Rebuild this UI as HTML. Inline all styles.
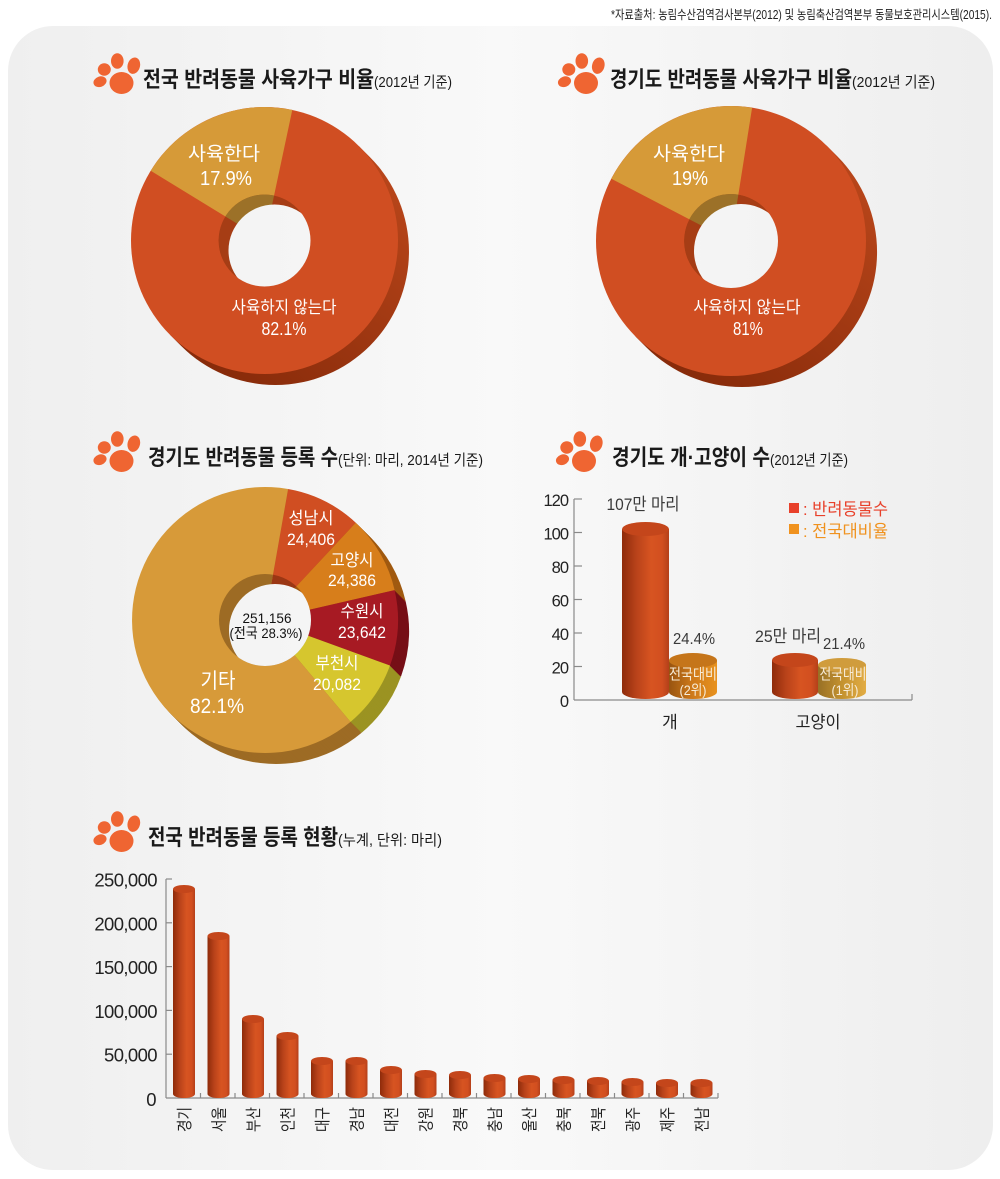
<!DOCTYPE html>
<html><head><meta charset="utf-8"><style>
html,body{margin:0;padding:0;background:#fff;}
svg{display:block;}
text{font-family:"Liberation Sans","Noto Sans CJK KR",sans-serif;}
.t{font-weight:bold;fill:#1a1a1a;font-size:22px;}
.p{fill:#1a1a1a;font-size:15px;}
.w{fill:#fff;}
</style></head><body>
<svg width="1000" height="1179" viewBox="0 0 1000 1179" xmlns="http://www.w3.org/2000/svg">
<defs>
 <linearGradient id="bg" gradientUnits="userSpaceOnUse" x1="8" y1="0" x2="993" y2="0">
  <stop offset="0" stop-color="#efefef"/><stop offset="0.5" stop-color="#f9f9f9"/><stop offset="1" stop-color="#eeeeee"/>
 </linearGradient>
 <linearGradient id="sideR" x1="1" y1="0.1" x2="0.3" y2="1">
  <stop offset="0" stop-color="#bb471b"/><stop offset="1" stop-color="#882b0a"/>
 </linearGradient>
 <linearGradient id="cylR" x1="0" y1="0" x2="1" y2="0">
  <stop offset="0" stop-color="#8e2b0a"/><stop offset="0.3" stop-color="#b8421a"/><stop offset="0.62" stop-color="#d75421"/><stop offset="0.85" stop-color="#d24f20"/><stop offset="1" stop-color="#b4401a"/>
 </linearGradient>
 <linearGradient id="cylO" x1="0" y1="0" x2="1" y2="0">
  <stop offset="0" stop-color="#985410"/><stop offset="0.5" stop-color="#cf7a1a"/><stop offset="1" stop-color="#e8921f"/>
 </linearGradient>
 <linearGradient id="cylG" x1="0" y1="0" x2="1" y2="0">
  <stop offset="0" stop-color="#987026"/><stop offset="0.5" stop-color="#c4922f"/><stop offset="1" stop-color="#e2ac44"/>
 </linearGradient>
 <clipPath id="hc1"><circle cx="264.5" cy="240.5" r="46"/></clipPath>
 <clipPath id="hc2"><circle cx="731" cy="241" r="47"/></clipPath>
 <clipPath id="hc3"><circle cx="265" cy="620" r="46"/></clipPath>
 <g id="paw" fill="#ef6532">
  <ellipse cx="0" cy="0" rx="12" ry="11"/>
  <ellipse cx="-21.5" cy="-1.3" rx="6.7" ry="5.2" transform="rotate(-20 -21.5 -1.3)"/>
  <ellipse cx="-17.2" cy="-13.5" rx="6.5" ry="6.2"/>
  <ellipse cx="-4.2" cy="-22" rx="6.3" ry="7.8"/>
  <ellipse cx="12.3" cy="-17.3" rx="6.2" ry="8.3" transform="rotate(15 12.3 -17.3)"/>
 </g>
 <g id="mside">
  <path d="M265,620 L288.1,489 A133,133 0 0,1 355.7,522.7 Z" fill="#9b3714"/>
  <path d="M265,620 L355.7,522.7 A133,133 0 0,1 394.6,590.1 Z" fill="#a05a10"/>
  <path d="M265,620 L394.6,590.1 A133,133 0 0,1 390,665.5 Z" fill="#760e16"/>
  <path d="M265,620 L390,665.5 A133,133 0 0,1 350.5,721.9 Z" fill="#9b9322"/>
  <path d="M265,620 L350.5,721.9 A133,133 0 1,1 288.1,489 Z" fill="#9d6b24"/>
 </g>
</defs>

<rect x="8" y="26" width="985" height="1144" rx="45" fill="url(#bg)"/>

<text x="611" y="19" font-size="12.5" fill="#222" textLength="381" lengthAdjust="spacingAndGlyphs">*자료출처: 농림수산검역검사본부(2012) 및 농림축산검역본부 동물보호관리시스템(2015).</text>

<!-- Titles -->
<use href="#paw" x="121.5" y="83"/>
<text x="143" y="87" class="t" textLength="231" lengthAdjust="spacingAndGlyphs">전국 반려동물 사육가구 비율</text>
<text x="374" y="87" class="p" textLength="78" lengthAdjust="spacingAndGlyphs">(2012년 기준)</text>

<use href="#paw" x="586" y="83"/>
<text x="610" y="87" class="t" textLength="242" lengthAdjust="spacingAndGlyphs">경기도 반려동물 사육가구 비율</text>
<text x="852" y="87" class="p" textLength="83" lengthAdjust="spacingAndGlyphs">(2012년 기준)</text>

<use href="#paw" x="121.5" y="461"/>
<text x="148" y="465" class="t" textLength="190" lengthAdjust="spacingAndGlyphs">경기도 반려동물 등록 수</text>
<text x="338" y="465" class="p" textLength="145" lengthAdjust="spacingAndGlyphs">(단위: 마리, 2014년 기준)</text>

<use href="#paw" x="584" y="461"/>
<text x="612" y="465" class="t" textLength="158" lengthAdjust="spacingAndGlyphs">경기도 개·고양이 수</text>
<text x="770" y="465" class="p" textLength="78" lengthAdjust="spacingAndGlyphs">(2012년 기준)</text>

<use href="#paw" x="121.5" y="841"/>
<text x="148" y="845" class="t" textLength="190" lengthAdjust="spacingAndGlyphs">전국 반려동물 등록 현황</text>
<text x="338" y="845" class="p" textLength="104" lengthAdjust="spacingAndGlyphs">(누계, 단위: 마리)</text>

<!-- Donut 1 -->
<path d="M358.9,146.1 L369.9,157.1 A133.5,133.5 0 0,1 181.1,345.9 L170.1,334.9 Z" fill="url(#sideR)"/>
<circle cx="264.5" cy="240.5" r="133.5" fill="#d04e22"/>
<path d="M264.5,240.5 L292.3,109.9 A133.5,133.5 0 0,0 150.7,170.75 Z" fill="#d69a38"/>
<g clip-path="url(#hc1)">
 <circle cx="264.5" cy="240.5" r="46" fill="#a63d15"/>
 <path d="M264.5,240.5 L292.3,109.9 A133.5,133.5 0 0,0 150.7,170.75 Z" fill="#9c7128"/>
 <circle cx="274.5" cy="250.5" r="46" fill="url(#bg)"/>
</g>
<text x="224" y="160" class="w" font-size="19" text-anchor="middle" textLength="72" lengthAdjust="spacingAndGlyphs">사육한다</text>
<text x="226" y="185" class="w" font-size="20" text-anchor="middle" textLength="52" lengthAdjust="spacingAndGlyphs">17.9%</text>
<text x="284" y="313" class="w" font-size="17" text-anchor="middle" textLength="105" lengthAdjust="spacingAndGlyphs">사육하지 않는다</text>
<text x="284" y="335" class="w" font-size="18" text-anchor="middle" textLength="45" lengthAdjust="spacingAndGlyphs">82.1%</text>

<!-- Donut 2 -->
<path d="M826.5,145.5 L837.5,156.5 A135,135 0 0,1 646.5,347.5 L635.5,336.5 Z" fill="url(#sideR)"/>
<circle cx="731" cy="241" r="135" fill="#d04e22"/>
<path d="M731,241 L752.1,107.7 A135,135 0 0,0 611.3,178.7 Z" fill="#d69a38"/>
<g clip-path="url(#hc2)">
 <circle cx="731" cy="241" r="47" fill="#a63d15"/>
 <path d="M731,241 L752.1,107.7 A135,135 0 0,0 611.3,178.7 Z" fill="#9c7128"/>
 <circle cx="741" cy="251" r="47" fill="url(#bg)"/>
</g>
<text x="689" y="160" class="w" font-size="19" text-anchor="middle" textLength="72" lengthAdjust="spacingAndGlyphs">사육한다</text>
<text x="690" y="185" class="w" font-size="20" text-anchor="middle" textLength="36" lengthAdjust="spacingAndGlyphs">19%</text>
<text x="747" y="313" class="w" font-size="17" text-anchor="middle" textLength="107" lengthAdjust="spacingAndGlyphs">사육하지 않는다</text>
<text x="748" y="335" class="w" font-size="18" text-anchor="middle" textLength="30" lengthAdjust="spacingAndGlyphs">81%</text>

<!-- Donut 3 -->
<use href="#mside" x="11" y="11"/><use href="#mside" x="10" y="10"/><use href="#mside" x="9" y="9"/>
<use href="#mside" x="8" y="8"/><use href="#mside" x="7" y="7"/><use href="#mside" x="6" y="6"/>
<use href="#mside" x="5" y="5"/><use href="#mside" x="4" y="4"/><use href="#mside" x="3" y="3"/>
<use href="#mside" x="2" y="2"/><use href="#mside" x="1" y="1"/>
<path d="M265,620 L288.1,489 A133,133 0 0,1 355.7,522.7 Z" fill="#d04e22"/>
<path d="M265,620 L355.7,522.7 A133,133 0 0,1 394.6,590.1 Z" fill="#d77e1b"/>
<path d="M265,620 L394.6,590.1 A133,133 0 0,1 390,665.5 Z" fill="#a71a23"/>
<path d="M265,620 L390,665.5 A133,133 0 0,1 350.5,721.9 Z" fill="#d6c62e"/>
<path d="M265,620 L350.5,721.9 A133,133 0 1,1 288.1,489 Z" fill="#d79a39"/>
<g clip-path="url(#hc3)">
 <use href="#mside"/>
 <circle cx="275" cy="630" r="46" fill="url(#bg)"/>
</g>
<text x="311" y="524" class="w" font-size="17" text-anchor="middle" textLength="45" lengthAdjust="spacingAndGlyphs">성남시</text>
<text x="311" y="545" class="w" font-size="17" text-anchor="middle" textLength="48" lengthAdjust="spacingAndGlyphs">24,406</text>
<text x="352" y="566" class="w" font-size="17" text-anchor="middle" textLength="43" lengthAdjust="spacingAndGlyphs">고양시</text>
<text x="352" y="586" class="w" font-size="17" text-anchor="middle" textLength="48" lengthAdjust="spacingAndGlyphs">24,386</text>
<text x="362" y="617" class="w" font-size="17" text-anchor="middle" textLength="43" lengthAdjust="spacingAndGlyphs">수원시</text>
<text x="362" y="638" class="w" font-size="17" text-anchor="middle" textLength="48" lengthAdjust="spacingAndGlyphs">23,642</text>
<text x="337" y="669" class="w" font-size="17" text-anchor="middle" textLength="43" lengthAdjust="spacingAndGlyphs">부천시</text>
<text x="337" y="690" class="w" font-size="17" text-anchor="middle" textLength="48" lengthAdjust="spacingAndGlyphs">20,082</text>
<text x="218" y="688" class="w" font-size="21" text-anchor="middle" textLength="35" lengthAdjust="spacingAndGlyphs">기타</text>
<text x="217" y="713" class="w" font-size="21" text-anchor="middle" textLength="54" lengthAdjust="spacingAndGlyphs">82.1%</text>
<text x="267" y="623" fill="#111" font-size="14" text-anchor="middle" textLength="49" lengthAdjust="spacingAndGlyphs">251,156</text>
<text x="266" y="638" fill="#111" font-size="14" text-anchor="middle" textLength="73" lengthAdjust="spacingAndGlyphs">(전국 28.3%)</text>

<!-- Bar chart (개·고양이) -->
<g stroke="#8a8a8a" stroke-width="1.2" fill="none">
 <line x1="574" y1="499" x2="574" y2="700"/>
 <line x1="574" y1="700" x2="912" y2="700"/>
 <line x1="912" y1="694" x2="912" y2="700"/>
 <line x1="574" y1="499" x2="582" y2="499"/>
 <line x1="574" y1="532.5" x2="582" y2="532.5"/>
 <line x1="574" y1="566" x2="582" y2="566"/>
 <line x1="574" y1="599.5" x2="582" y2="599.5"/>
 <line x1="574" y1="633" x2="582" y2="633"/>
 <line x1="574" y1="666.5" x2="582" y2="666.5"/>
</g>
<g fill="#222" font-size="16.5" text-anchor="end" letter-spacing="-1">
 <text x="568" y="506">120</text>
 <text x="568" y="539.5">100</text>
 <text x="568" y="573">80</text>
 <text x="568" y="606.5">60</text>
 <text x="568" y="640">40</text>
 <text x="568" y="673.5">20</text>
 <text x="568" y="707">0</text>
</g>
<!-- 개 red -->
<ellipse cx="645.5" cy="692" rx="23.5" ry="7" fill="url(#cylR)"/>
<rect x="622" y="529" width="47" height="163" fill="url(#cylR)"/>
<ellipse cx="645.5" cy="529" rx="23.5" ry="7" fill="#c4461b"/>
<!-- 개 orange -->
<ellipse cx="693" cy="692" rx="24" ry="7" fill="url(#cylO)"/>
<rect x="669" y="660.5" width="48" height="31.5" fill="url(#cylO)"/>
<ellipse cx="693" cy="660.5" rx="24" ry="7.5" fill="#c5751a"/>
<!-- 고양이 red -->
<ellipse cx="795" cy="692" rx="23" ry="7" fill="url(#cylR)"/>
<rect x="772" y="660" width="46" height="32" fill="url(#cylR)"/>
<ellipse cx="795" cy="660" rx="23" ry="7" fill="#c4461b"/>
<!-- 고양이 gold -->
<ellipse cx="842" cy="692" rx="24" ry="7" fill="url(#cylG)"/>
<rect x="818" y="665" width="48" height="27" fill="url(#cylG)"/>
<ellipse cx="842" cy="665" rx="24" ry="7" fill="#d09c3c"/>

<text x="643" y="510" fill="#3a3a3a" font-size="17" text-anchor="middle" textLength="73" lengthAdjust="spacingAndGlyphs">107만 마리</text>
<text x="694" y="644" fill="#3a3a3a" font-size="16" text-anchor="middle" textLength="42" lengthAdjust="spacingAndGlyphs">24.4%</text>
<text x="788" y="642" fill="#3a3a3a" font-size="17" text-anchor="middle" textLength="66" lengthAdjust="spacingAndGlyphs">25만 마리</text>
<text x="844" y="649" fill="#3a3a3a" font-size="16" text-anchor="middle" textLength="42" lengthAdjust="spacingAndGlyphs">21.4%</text>
<text x="693" y="679" fill="#f7ecd8" font-size="15" text-anchor="middle" textLength="48" lengthAdjust="spacingAndGlyphs">전국대비</text>
<text x="693" y="695" fill="#f7ecd8" font-size="14" text-anchor="middle" textLength="27" lengthAdjust="spacingAndGlyphs">(2위)</text>
<text x="843" y="679" fill="#f7ecd8" font-size="15" text-anchor="middle" textLength="47" lengthAdjust="spacingAndGlyphs">전국대비</text>
<text x="845" y="695" fill="#f7ecd8" font-size="14" text-anchor="middle" textLength="27" lengthAdjust="spacingAndGlyphs">(1위)</text>
<text x="670" y="728" fill="#222" font-size="17" text-anchor="middle">개</text>
<text x="818" y="728" fill="#222" font-size="17" text-anchor="middle" textLength="45" lengthAdjust="spacingAndGlyphs">고양이</text>

<rect x="789" y="503" width="10" height="10" fill="#e8402a"/>
<text x="803" y="515" fill="#e8402a" font-size="17" textLength="85" lengthAdjust="spacingAndGlyphs">: 반려동물수</text>
<rect x="789" y="524" width="10" height="10" fill="#f0921e"/>
<text x="803" y="537" fill="#f0921e" font-size="17" textLength="85" lengthAdjust="spacingAndGlyphs">: 전국대비율</text>

<!-- Bottom bar chart -->
<g stroke="#8a8a8a" stroke-width="1.2" fill="none">
 <line x1="166" y1="879" x2="166" y2="1098"/>
 <line x1="166" y1="1098" x2="718" y2="1098"/>
 <line x1="166" y1="879" x2="172" y2="879"/>
 <line x1="166" y1="922.8" x2="172" y2="922.8"/>
 <line x1="166" y1="966.6" x2="172" y2="966.6"/>
 <line x1="166" y1="1010.4" x2="172" y2="1010.4"/>
 <line x1="166" y1="1054.2" x2="172" y2="1054.2"/>
 <path d="M200.5,1093V1098M235,1093V1098M269.5,1093V1098M304,1093V1098M338.5,1093V1098M373,1093V1098M407.5,1093V1098M442,1093V1098M476.5,1093V1098M511,1093V1098M545.5,1093V1098M580,1093V1098M614.5,1093V1098M649,1093V1098M683.5,1093V1098M718,1093V1098"/>
</g>
<g fill="#222" font-size="18.5" text-anchor="end" letter-spacing="-0.6">
 <text x="157" y="886.5">250,000</text>
 <text x="157" y="930.3">200,000</text>
 <text x="157" y="974.1">150,000</text>
 <text x="157" y="1017.9">100,000</text>
 <text x="157" y="1061.7">50,000</text>
 <text x="156" y="1106">0</text>
</g>

<g>
 <ellipse cx="184" cy="1094" rx="11" ry="4" fill="url(#cylR)"/><rect x="173" y="889" width="22" height="205" fill="url(#cylR)"/><ellipse cx="184" cy="889" rx="11" ry="4" fill="#c4461b"/>
 <ellipse cx="218.5" cy="1094" rx="11" ry="4" fill="url(#cylR)"/><rect x="207.5" y="936" width="22" height="158" fill="url(#cylR)"/><ellipse cx="218.5" cy="936" rx="11" ry="4" fill="#c4461b"/>
 <ellipse cx="253" cy="1094" rx="11" ry="4" fill="url(#cylR)"/><rect x="242" y="1019" width="22" height="75" fill="url(#cylR)"/><ellipse cx="253" cy="1019" rx="11" ry="4" fill="#c4461b"/>
 <ellipse cx="287.5" cy="1094" rx="11" ry="4" fill="url(#cylR)"/><rect x="276.5" y="1036" width="22" height="58" fill="url(#cylR)"/><ellipse cx="287.5" cy="1036" rx="11" ry="4" fill="#c4461b"/>
 <ellipse cx="322" cy="1094" rx="11" ry="4" fill="url(#cylR)"/><rect x="311" y="1061" width="22" height="33" fill="url(#cylR)"/><ellipse cx="322" cy="1061" rx="11" ry="4" fill="#c4461b"/>
 <ellipse cx="356.5" cy="1094" rx="11" ry="4" fill="url(#cylR)"/><rect x="345.5" y="1061" width="22" height="33" fill="url(#cylR)"/><ellipse cx="356.5" cy="1061" rx="11" ry="4" fill="#c4461b"/>
 <ellipse cx="391" cy="1094" rx="11" ry="4" fill="url(#cylR)"/><rect x="380" y="1070" width="22" height="24" fill="url(#cylR)"/><ellipse cx="391" cy="1070" rx="11" ry="4" fill="#c4461b"/>
 <ellipse cx="425.5" cy="1094" rx="11" ry="4" fill="url(#cylR)"/><rect x="414.5" y="1074" width="22" height="20" fill="url(#cylR)"/><ellipse cx="425.5" cy="1074" rx="11" ry="4" fill="#c4461b"/>
 <ellipse cx="460" cy="1094" rx="11" ry="4" fill="url(#cylR)"/><rect x="449" y="1075" width="22" height="19" fill="url(#cylR)"/><ellipse cx="460" cy="1075" rx="11" ry="4" fill="#c4461b"/>
 <ellipse cx="494.5" cy="1094" rx="11" ry="4" fill="url(#cylR)"/><rect x="483.5" y="1078" width="22" height="16" fill="url(#cylR)"/><ellipse cx="494.5" cy="1078" rx="11" ry="4" fill="#c4461b"/>
 <ellipse cx="529" cy="1094" rx="11" ry="4" fill="url(#cylR)"/><rect x="518" y="1079" width="22" height="15" fill="url(#cylR)"/><ellipse cx="529" cy="1079" rx="11" ry="4" fill="#c4461b"/>
 <ellipse cx="563.5" cy="1094" rx="11" ry="4" fill="url(#cylR)"/><rect x="552.5" y="1080" width="22" height="14" fill="url(#cylR)"/><ellipse cx="563.5" cy="1080" rx="11" ry="4" fill="#c4461b"/>
 <ellipse cx="598" cy="1094" rx="11" ry="4" fill="url(#cylR)"/><rect x="587" y="1081" width="22" height="13" fill="url(#cylR)"/><ellipse cx="598" cy="1081" rx="11" ry="4" fill="#c4461b"/>
 <ellipse cx="632.5" cy="1094" rx="11" ry="4" fill="url(#cylR)"/><rect x="621.5" y="1082" width="22" height="12" fill="url(#cylR)"/><ellipse cx="632.5" cy="1082" rx="11" ry="4" fill="#c4461b"/>
 <ellipse cx="667" cy="1094" rx="11" ry="4" fill="url(#cylR)"/><rect x="656" y="1083" width="22" height="11" fill="url(#cylR)"/><ellipse cx="667" cy="1083" rx="11" ry="4" fill="#c4461b"/>
 <ellipse cx="701.5" cy="1094" rx="11" ry="4" fill="url(#cylR)"/><rect x="690.5" y="1083" width="22" height="11" fill="url(#cylR)"/><ellipse cx="701.5" cy="1083" rx="11" ry="4" fill="#c4461b"/>
</g>

<g fill="#222" font-size="16" text-anchor="end">
 <text transform="translate(190,1107) rotate(-90)" textLength="25" lengthAdjust="spacingAndGlyphs">경기</text>
 <text transform="translate(224.5,1107) rotate(-90)" textLength="25" lengthAdjust="spacingAndGlyphs">서울</text>
 <text transform="translate(259,1107) rotate(-90)" textLength="25" lengthAdjust="spacingAndGlyphs">부산</text>
 <text transform="translate(293.5,1107) rotate(-90)" textLength="25" lengthAdjust="spacingAndGlyphs">인천</text>
 <text transform="translate(328,1107) rotate(-90)" textLength="25" lengthAdjust="spacingAndGlyphs">대구</text>
 <text transform="translate(362.5,1107) rotate(-90)" textLength="25" lengthAdjust="spacingAndGlyphs">경남</text>
 <text transform="translate(397,1107) rotate(-90)" textLength="25" lengthAdjust="spacingAndGlyphs">대전</text>
 <text transform="translate(431.5,1107) rotate(-90)" textLength="25" lengthAdjust="spacingAndGlyphs">강원</text>
 <text transform="translate(466,1107) rotate(-90)" textLength="25" lengthAdjust="spacingAndGlyphs">경북</text>
 <text transform="translate(500.5,1107) rotate(-90)" textLength="25" lengthAdjust="spacingAndGlyphs">충남</text>
 <text transform="translate(535,1107) rotate(-90)" textLength="25" lengthAdjust="spacingAndGlyphs">울산</text>
 <text transform="translate(569.5,1107) rotate(-90)" textLength="25" lengthAdjust="spacingAndGlyphs">충북</text>
 <text transform="translate(604,1107) rotate(-90)" textLength="25" lengthAdjust="spacingAndGlyphs">전북</text>
 <text transform="translate(638.5,1107) rotate(-90)" textLength="25" lengthAdjust="spacingAndGlyphs">광주</text>
 <text transform="translate(673,1107) rotate(-90)" textLength="25" lengthAdjust="spacingAndGlyphs">제주</text>
 <text transform="translate(707.5,1107) rotate(-90)" textLength="25" lengthAdjust="spacingAndGlyphs">전남</text>
</g>
</svg>
</body></html>
